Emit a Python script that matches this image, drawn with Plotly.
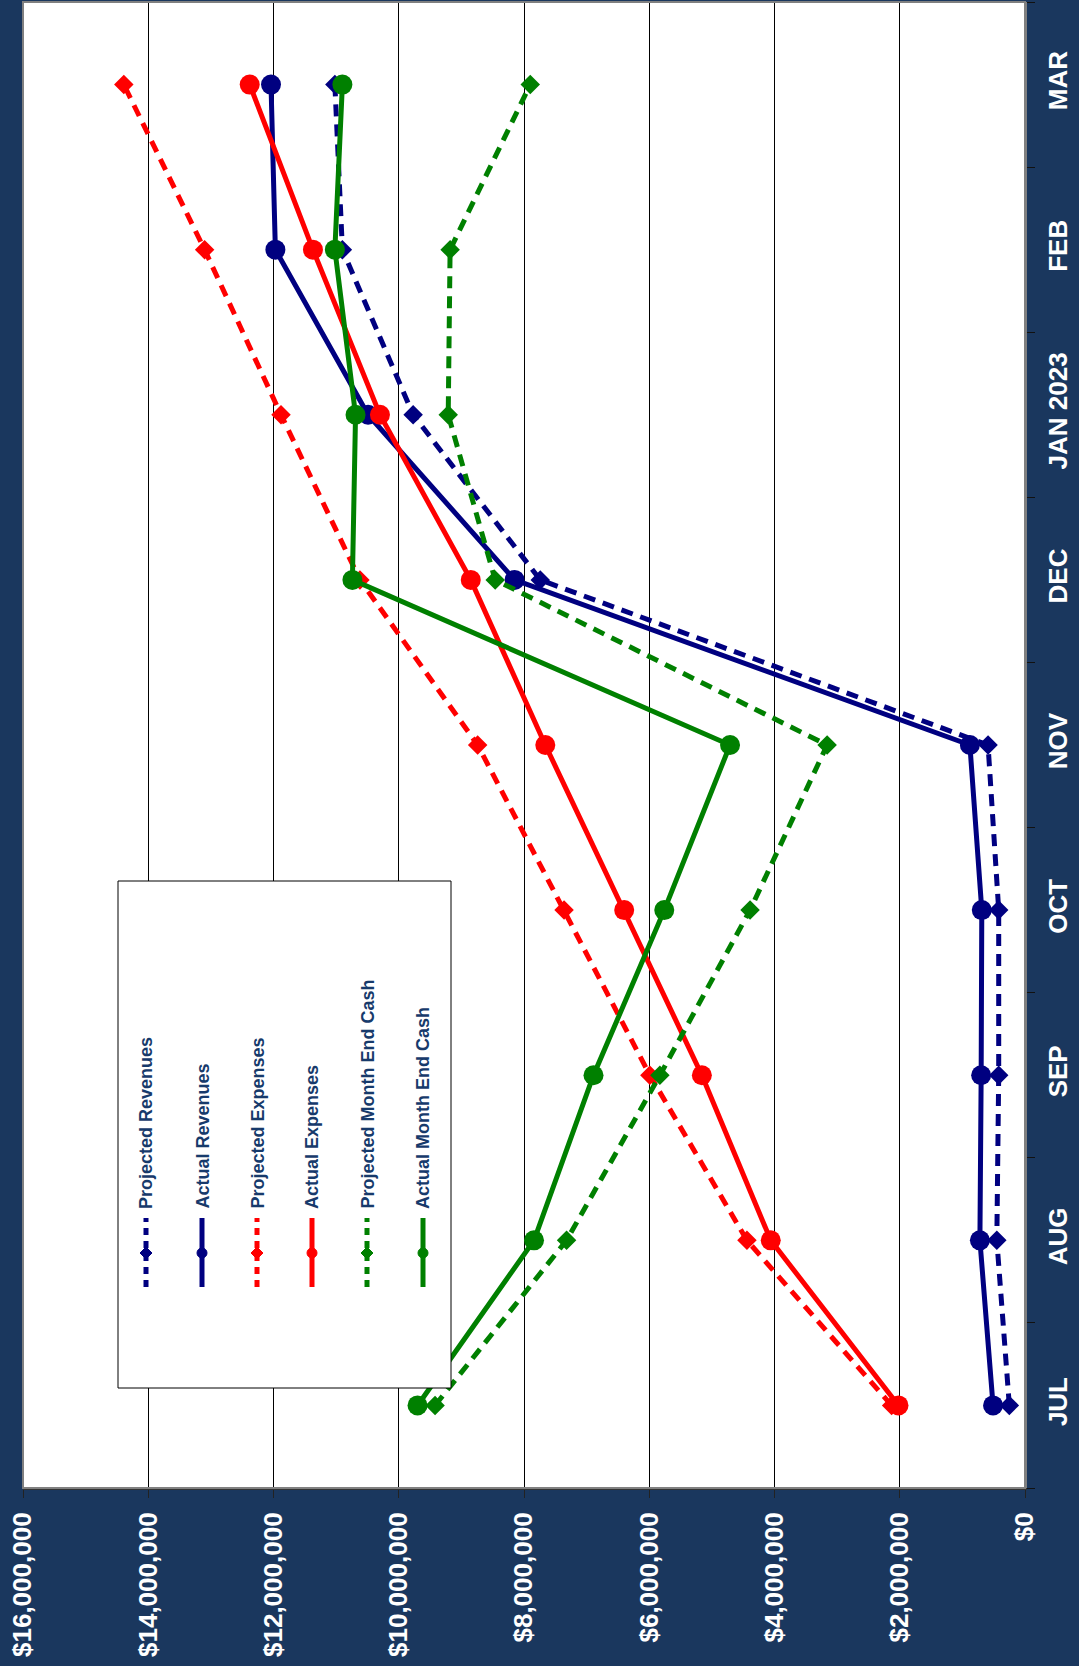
import plotly.graph_objects as go

months = ["JUL", "AUG", "SEP", "OCT", "NOV", "DEC", "JAN 2023", "FEB", "MAR"]
proj_rev = [250000, 450000, 420000, 420000, 590000, 7740000, 9770000, 10900000, 11020000]
act_rev = [510000, 720000, 700000, 690000, 880000, 8150000, 10490000, 11970000, 12040000]
proj_exp = [2130000, 4440000, 5990000, 7360000, 8740000, 10620000, 11880000, 13100000, 14390000]
act_exp = [2020000, 4060000, 5160000, 6400000, 7660000, 8850000, 10300000, 11370000, 12380000]
proj_cash = [9420000, 7320000, 5830000, 4390000, 3160000, 8460000, 9210000, 9180000, 7900000]
act_cash = [9700000, 7840000, 6890000, 5760000, 4710000, 10740000, 10690000, 11020000, 10900000]

series_names = ["Projected Revenues", "Actual Revenues", "Projected Expenses",
                "Actual Expenses", "Projected Month End Cash", "Actual Month End Cash"]
series_vals = [proj_rev, act_rev, proj_exp, act_exp, proj_cash, act_cash]
series_cols = ["#000080", "#000080", "#FF0000", "#FF0000", "#008000", "#008000"]
series_proj = [True, False, True, False, True, False]

value_ticks = list(range(0, 16000001, 2000000))
value_labels = ["$" + format(v, ",") for v in value_ticks]

W, H = 1079, 1666
L, R, T, B = 23, 54, 2, 178
PW, PH = W - L - R, H - T - B
BG = "#1A375E"
DASH = "12px,8px"


def px(x):
    return (x - L) / PW


def py(y):
    return (H - B - y) / PH


fig = go.Figure()
for name, vals, col, proj in zip(series_names, series_vals, series_cols, series_proj):
    fig.add_trace(go.Scatter(
        x=vals, y=months, mode="lines+markers", name=name,
        line=dict(color=col, width=5, dash=DASH if proj else "solid"),
        marker=dict(symbol="diamond" if proj else "circle", size=15 if proj else 20,
                    color=col, line=dict(width=0)),
        showlegend=False,
    ))

shapes = []
annotations = []
# legend box (drawn above data like the original)
shapes.append(dict(type="rect", xref="paper", yref="paper", layer="above",
                   x0=px(118), x1=px(451), y0=py(1388), y1=py(881),
                   fillcolor="white", line=dict(color="#000000", width=1)))
leg_x = [146, 202, 257, 312, 367, 423]
for xc, name, col, proj in zip(leg_x, series_names, series_cols, series_proj):
    shapes.append(dict(type="line", xref="paper", yref="paper", layer="above",
                       x0=px(xc), x1=px(xc), y0=py(1287), y1=py(1218),
                       line=dict(color=col, width=5, dash="7px,6px" if proj else "solid")))
    if proj:
        d = 6
        path = (f"M {px(xc)},{py(1253 - d)} L {px(xc + d)},{py(1253)} "
                f"L {px(xc)},{py(1253 + d)} L {px(xc - d)},{py(1253)} Z")
        shapes.append(dict(type="path", xref="paper", yref="paper", layer="above",
                           path=path, fillcolor=col, line=dict(color=col, width=1)))
    else:
        r = 5
        shapes.append(dict(type="circle", xref="paper", yref="paper", layer="above",
                           x0=px(xc - r), x1=px(xc + r), y0=py(1253 + r), y1=py(1253 - r),
                           fillcolor=col, line=dict(color=col, width=1)))
    annotations.append(dict(xref="paper", yref="paper", x=px(xc), y=py(1211),
                            xanchor="center", yanchor="bottom", textangle=-90,
                            text=name, showarrow=False,
                            font=dict(family="Liberation Sans", size=18, color="#173A6B",
                                      weight="bold")))

# plot border (top/left grey)
shapes.append(dict(type="rect", xref="paper", yref="paper", layer="above",
                   x0=0, x1=1, y0=0, y1=1, line=dict(color="#808080", width=2)))

fig.update_layout(
    width=W, height=H,
    margin=dict(l=L, r=R, t=T, b=B, pad=0),
    paper_bgcolor=BG, plot_bgcolor="white",
    shapes=shapes, annotations=annotations,
    xaxis=dict(range=[16000000, 0], tickmode="array", tickvals=value_ticks, ticktext=value_labels,
               tickangle=-90, showgrid=True, gridcolor="#000000", gridwidth=1,
               zeroline=False, showline=True, linecolor="#333333", linewidth=2,
               ticks="outside", ticklen=8, tickcolor="#222222", tickwidth=1,
               ticklabelstandoff=4,
               tickfont=dict(family="Liberation Sans", size=26, color="white", weight="bold")),
    yaxis=dict(type="category", categoryorder="array", categoryarray=months,
               range=[-0.5, 8.5], side="right", tickangle=-90, tickson="boundaries",
               showgrid=False, zeroline=False, showline=True, linecolor="#808080", linewidth=2,
               ticks="outside", ticklen=8, tickcolor="#111111", tickwidth=1,
               ticklabelstandoff=9,
               tickfont=dict(family="Liberation Sans", size=26, color="white", weight="bold")),
)

fig.write_html("out.html")
